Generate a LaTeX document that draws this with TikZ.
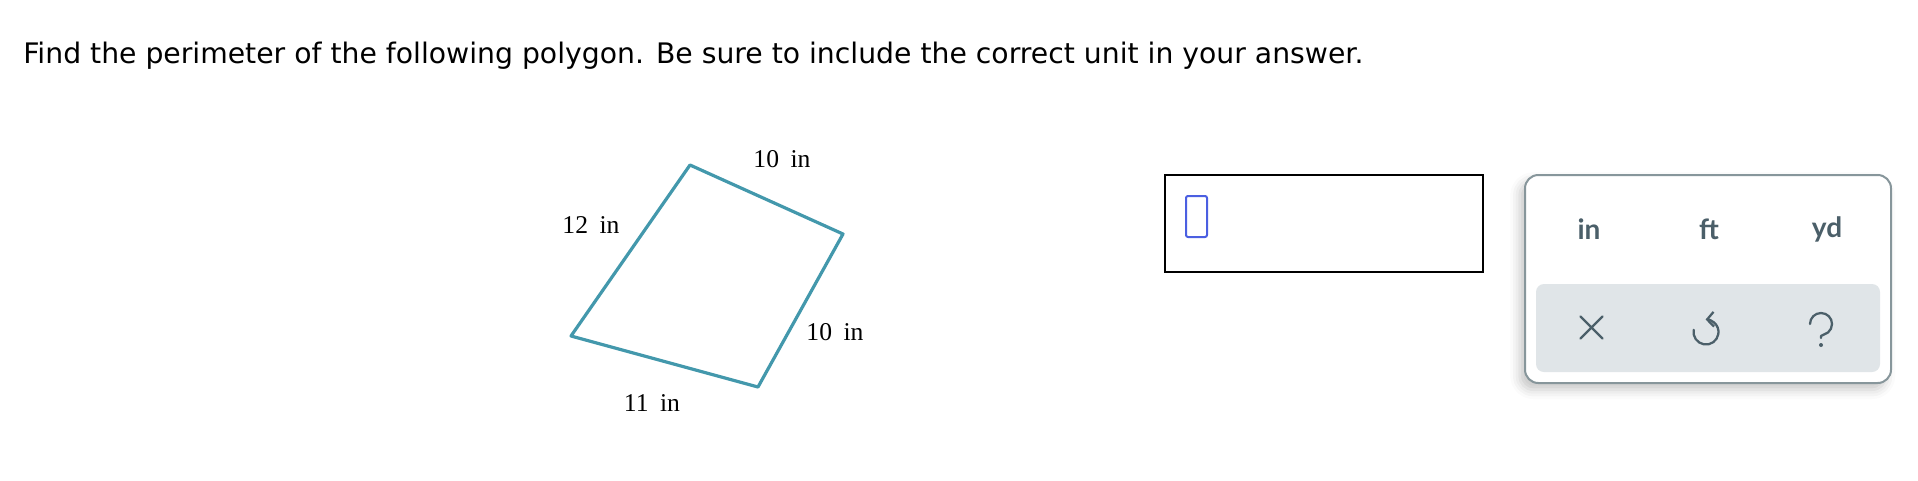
\documentclass[tikz,border=0pt]{standalone}
\usepackage{fontspec}
\setmainfont{Liberation Serif}
\newfontfamily\promptfont{DejaVu Sans}
\newfontfamily\keyfont{Lato}
\usetikzlibrary{arrows.meta}
\usetikzlibrary{shadows.blur}

\definecolor{polyteal}{RGB}{67,152,172}
\definecolor{keyslate}{RGB}{75,95,105}
\definecolor{panelrim}{RGB}{135,150,155}
\definecolor{panelgrey}{RGB}{224,229,232}
\definecolor{caretblue}{RGB}{75,95,225}

\tikzset{
  sidelabel/.style={font=\fontsize{19.2}{22}\selectfont, inner sep=0pt},
  unitkey/.style={font=\keyfont\bfseries\fontsize{21}{24}\selectfont, text=keyslate, inner sep=0pt},
  iconline/.style={draw=keyslate, line width=1.7pt, line cap=round, line join=round},
}

\begin{document}
\begin{tikzpicture}[x=0.75pt,y=0.75pt,yscale=-1,xscale=1]
\useasboundingbox (0,0) rectangle (1918,480);

% Text Node
\draw (23,63) node [anchor=base west, inner sep=0pt, font=\promptfont\fontsize{21.2}{25}\selectfont] (prompt) {Find the perimeter of the following polygon. Be sure to include the correct unit in your answer.};

%Shape: Polygon
\coordinate (ptop) at (690,165);
\coordinate (pright) at (843,234);
\coordinate (pbottom) at (758,387);
\coordinate (pleft) at (571,336);
\draw [draw=polyteal, line width=2.4pt, line join=round] (ptop) -- (pright) -- (pbottom) -- (pleft) -- cycle;

% Text Node
\draw (782,159) node [sidelabel] (lbltop) {10\hspace{0.45em}in};
% Text Node
\draw (591,225) node [sidelabel] (lblleft) {12\hspace{0.45em}in};
% Text Node
\draw (835,332) node [sidelabel] (lblright) {10\hspace{0.45em}in};
% Text Node
\draw (652,403) node [sidelabel] (lblbottom) {11\hspace{0.45em}in};

%Shape: Answer box
\draw [line width=1.6pt] (1165,175) rectangle (1483,272);
%Shape: Caret
\draw [draw=caretblue, line width=1.5pt, rounded corners=1.5pt] (1186,196) rectangle (1207,237);

%Shape: Keypad panel
\draw [draw=panelrim, fill=white, line width=1.5pt, rounded corners=10pt,
  blur shadow={shadow xshift=-4pt, shadow yshift=-5pt, shadow blur radius=7pt, shadow opacity=22}]
  (1525,175) rectangle (1891,383);
\fill [panelgrey, rounded corners=6pt] (1536,284) rectangle (1880,372);

% Text Node
\draw (1589,229) node [unitkey] (keyin) {in};
% Text Node
\draw (1709,229) node [unitkey] (keyft) {ft};
% Text Node
\draw (1827,229) node [unitkey] (keyyd) {yd};

%Shape: Clear icon
\coordinate (clearc) at (1591.5,327.5);
\draw [iconline] (clearc) +(-11,-11) -- +(11,11) +(-11,11) -- +(11,-11);
%Shape: Undo icon
\coordinate (undoc) at (1706,332);
\draw [iconline, -{Straight Barb[length=5pt,width=11pt]}] (undoc) +(-170:12.5) arc [start angle=-170, end angle=-452, radius=12.5];
%Shape: Help icon
\coordinate (helpc) at (1821,324);
\draw [iconline] (helpc) +(-11,0) arc [start angle=-180, end angle=50, radius=11] -- (1821,336) -- (1821,338);
\fill [keyslate] (1821,345) circle (2);

\end{tikzpicture}
\end{document}
